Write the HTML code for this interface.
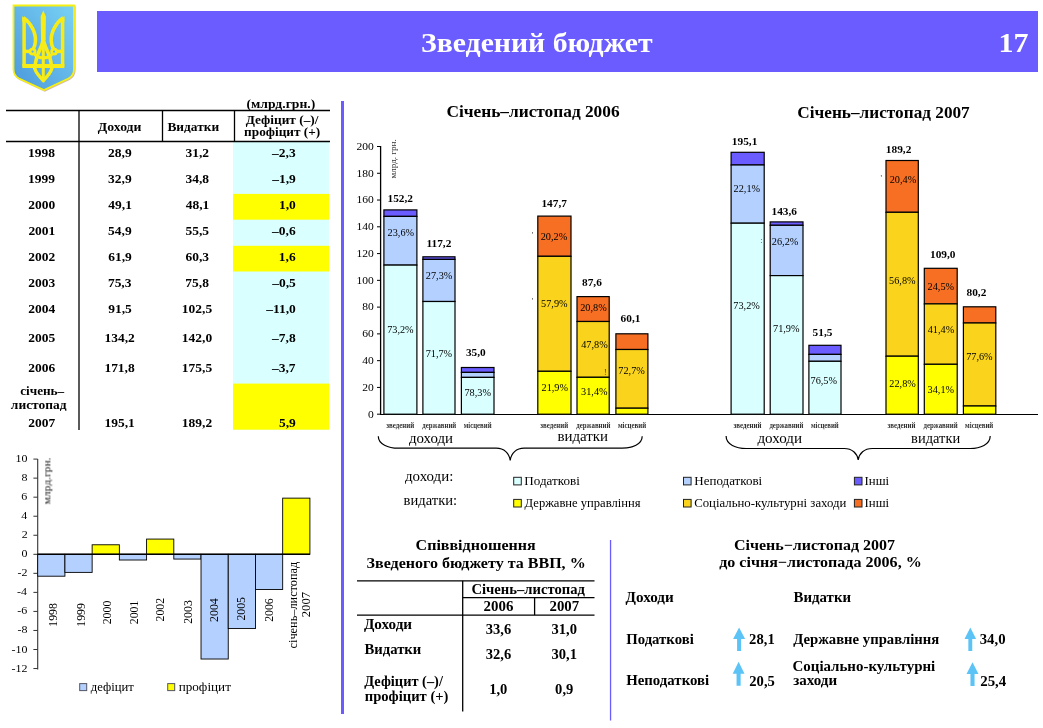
<!DOCTYPE html>
<html><head><meta charset="utf-8"><title>Зведений бюджет</title>
<style>html,body{margin:0;padding:0;background:#fff;}body{width:1043px;height:728px;overflow:hidden;font-family:"Liberation Serif",serif;}svg{display:block;will-change:transform;}</style>
</head><body>
<svg width="1043" height="728" viewBox="0 0 1043 728" font-family="Liberation Serif, serif"><defs>
<linearGradient id="shg" x1="1" y1="0" x2="0" y2="1">
<stop offset="0" stop-color="#78d2f4"/><stop offset="1" stop-color="#4b98dc"/>
</linearGradient>
</defs>
<path d="M14.3,6.3 H74.8 V69.8 Q74.8,76.3 69.3,79.3 L44.8,90.8 L19.8,79.3 Q14.3,76.3 14.3,69.8 Z" fill="none" stroke="#b89070" stroke-width="1.6" opacity="0.6"/>
<path d="M13.5,5.5 H74 V69 Q74,75.5 68.5,78.5 L44,90 L19,78.5 Q13.5,75.5 13.5,69 Z" fill="url(#shg)" stroke="#f6ef12" stroke-width="1.8"/>
<g fill="none" stroke="#f8ec16" stroke-width="3.5" stroke-linejoin="round" stroke-linecap="butt">
<path d="M24.1,18 V66"/>
<path d="M62.6,18 V66"/>
<path d="M22.3,66 H64.4" stroke-width="4.2"/>
<path d="M23.4,17.8 C31,23 36.2,33 35.4,41.5 C35.1,45.5 34.2,47.5 33.2,49"/>
<path d="M63.3,17.8 C55.7,23 50.5,33 51.3,41.5 C51.6,45.5 52.5,47.5 53.5,49"/>
<circle cx="32.6" cy="51.6" r="2.5" stroke-width="2.8"/>
<circle cx="54.1" cy="51.6" r="2.5" stroke-width="2.8"/>
<path d="M24,51.4 H30"/>
<path d="M62.7,51.4 H56.7"/>
<path d="M43.3,37 C43.3,48 36,52 35.2,66" stroke-width="3.6"/>
<path d="M43.3,37 C43.3,48 50.6,52 51.4,66" stroke-width="3.6"/>
<path d="M34.8,54.5 C37,57.3 40,57.8 43.3,57.8 C46.6,57.8 49.6,57.3 51.8,54.5" stroke-width="3"/>
<path d="M43.3,40 V80" stroke-width="3"/>
<path d="M34.4,66 C34.4,72.5 40,76.5 43.3,80.8 C46.6,76.5 52.2,72.5 52.2,66" stroke-width="3.4"/>
</g>
<path d="M43.3,10.4 L45.9,16.5 L45.6,40 L41,40 L40.7,16.5 Z" fill="#f8ec16"/>
<path d="M22.2,16 L26.3,19.5 L26,22 L22.4,22 Z" fill="#f8ec16"/>
<path d="M64.5,16 L60.4,19.5 L60.7,22 L64.3,22 Z" fill="#f8ec16"/>
<rect x="97.00" y="11.00" width="941.00" height="61.00" fill="#6a5cff" />
<text transform="translate(421.01,51.90) scale(1.0631,1)" font-size="28" font-weight="bold" fill="#fff" >Зведений бюджет</text>
<text transform="translate(998.60,52.00) scale(1.0714,1)" font-size="28" font-weight="bold" fill="#fff" >17</text>
<rect x="233.00" y="141.50" width="96.00" height="288.30" fill="#d9ffff" />
<rect x="233.00" y="193.90" width="96.00" height="25.80" fill="#ffff00" />
<rect x="233.00" y="245.80" width="96.00" height="25.70" fill="#ffff00" />
<rect x="233.00" y="383.60" width="96.00" height="46.10" fill="#ffff00" />
<line x1="6" y1="110.5" x2="330" y2="110.5" stroke="#000" stroke-width="1.3"/>
<line x1="6" y1="141.5" x2="330" y2="141.5" stroke="#000" stroke-width="1.3"/>
<line x1="79" y1="110.5" x2="79" y2="430" stroke="#000" stroke-width="1.3"/>
<line x1="162.5" y1="110.5" x2="162.5" y2="141.5" stroke="#000" stroke-width="1.3"/>
<line x1="234.5" y1="110.5" x2="234.5" y2="141.5" stroke="#000" stroke-width="1.3"/>
<text transform="translate(246.45,108.00) scale(1.0849,1)" font-size="12.6" font-weight="bold" >(млрд.грн.)</text>
<text transform="translate(97.86,131.10) scale(1.0894,1)" font-size="12.6" font-weight="bold" >Доходи</text>
<text transform="translate(167.43,131.10) scale(1.0637,1)" font-size="12.6" font-weight="bold" >Видатки</text>
<text transform="translate(245.67,123.70) scale(1.0582,1)" font-size="12.6" font-weight="bold" >Дефіцит (–)/</text>
<text transform="translate(244.10,136.10) scale(1.0559,1)" font-size="12.6" font-weight="bold" >профіцит (+)</text>
<text transform="translate(27.98,156.90) scale(1.0700,1)" font-size="12.6" font-weight="bold" >1998</text>
<text transform="translate(108.10,156.90) scale(1.0700,1)" font-size="12.6" font-weight="bold" >28,9</text>
<text transform="translate(185.50,156.90) scale(1.0700,1)" font-size="12.6" font-weight="bold" >31,2</text>
<text transform="translate(272.11,156.90) scale(1.0700,1)" font-size="12.6" font-weight="bold" >–2,3</text>
<text transform="translate(28.05,182.90) scale(1.0700,1)" font-size="12.6" font-weight="bold" >1999</text>
<text transform="translate(108.10,182.90) scale(1.0700,1)" font-size="12.6" font-weight="bold" >32,9</text>
<text transform="translate(185.44,182.90) scale(1.0700,1)" font-size="12.6" font-weight="bold" >34,8</text>
<text transform="translate(272.25,182.90) scale(1.0700,1)" font-size="12.6" font-weight="bold" >–1,9</text>
<text transform="translate(28.32,208.80) scale(1.0700,1)" font-size="12.6" font-weight="bold" >2000</text>
<text transform="translate(108.37,208.80) scale(1.0700,1)" font-size="12.6" font-weight="bold" >49,1</text>
<text transform="translate(185.77,208.80) scale(1.0700,1)" font-size="12.6" font-weight="bold" >48,1</text>
<text transform="translate(278.99,208.80) scale(1.0700,1)" font-size="12.6" font-weight="bold" >1,0</text>
<text transform="translate(28.39,234.80) scale(1.0700,1)" font-size="12.6" font-weight="bold" >2001</text>
<text transform="translate(108.10,234.80) scale(1.0700,1)" font-size="12.6" font-weight="bold" >54,9</text>
<text transform="translate(185.50,234.80) scale(1.0700,1)" font-size="12.6" font-weight="bold" >55,5</text>
<text transform="translate(272.11,234.80) scale(1.0700,1)" font-size="12.6" font-weight="bold" >–0,6</text>
<text transform="translate(28.32,260.60) scale(1.0700,1)" font-size="12.6" font-weight="bold" >2002</text>
<text transform="translate(108.17,260.60) scale(1.0700,1)" font-size="12.6" font-weight="bold" >61,9</text>
<text transform="translate(185.50,260.60) scale(1.0700,1)" font-size="12.6" font-weight="bold" >60,3</text>
<text transform="translate(278.85,260.60) scale(1.0700,1)" font-size="12.6" font-weight="bold" >1,6</text>
<text transform="translate(28.25,286.60) scale(1.0700,1)" font-size="12.6" font-weight="bold" >2003</text>
<text transform="translate(107.90,286.60) scale(1.0700,1)" font-size="12.6" font-weight="bold" >75,3</text>
<text transform="translate(185.30,286.60) scale(1.0700,1)" font-size="12.6" font-weight="bold" >75,8</text>
<text transform="translate(272.25,286.60) scale(1.0700,1)" font-size="12.6" font-weight="bold" >–0,5</text>
<text transform="translate(28.18,313.00) scale(1.0700,1)" font-size="12.6" font-weight="bold" >2004</text>
<text transform="translate(108.17,313.00) scale(1.0700,1)" font-size="12.6" font-weight="bold" >91,5</text>
<text transform="translate(181.86,313.00) scale(1.0700,1)" font-size="12.6" font-weight="bold" >102,5</text>
<text transform="translate(266.18,313.00) scale(1.0700,1)" font-size="12.6" font-weight="bold" >–11,0</text>
<text transform="translate(28.32,341.70) scale(1.0700,1)" font-size="12.6" font-weight="bold" >2005</text>
<text transform="translate(104.46,341.70) scale(1.0700,1)" font-size="12.6" font-weight="bold" >134,2</text>
<text transform="translate(181.86,341.70) scale(1.0700,1)" font-size="12.6" font-weight="bold" >142,0</text>
<text transform="translate(272.11,341.70) scale(1.0700,1)" font-size="12.6" font-weight="bold" >–7,8</text>
<text transform="translate(28.25,371.50) scale(1.0700,1)" font-size="12.6" font-weight="bold" >2006</text>
<text transform="translate(104.40,371.50) scale(1.0700,1)" font-size="12.6" font-weight="bold" >171,8</text>
<text transform="translate(181.86,371.50) scale(1.0700,1)" font-size="12.6" font-weight="bold" >175,5</text>
<text transform="translate(271.98,371.50) scale(1.0700,1)" font-size="12.6" font-weight="bold" >–3,7</text>
<text transform="translate(28.18,426.60) scale(1.0700,1)" font-size="12.6" font-weight="bold" >2007</text>
<text transform="translate(104.53,426.60) scale(1.0700,1)" font-size="12.6" font-weight="bold" >195,1</text>
<text transform="translate(181.86,426.60) scale(1.0700,1)" font-size="12.6" font-weight="bold" >189,2</text>
<text transform="translate(278.99,426.60) scale(1.0700,1)" font-size="12.6" font-weight="bold" >5,9</text>
<text transform="translate(20.20,394.90) scale(1.0478,1)" font-size="12.6" font-weight="bold" >січень–</text>
<text transform="translate(10.87,408.70) scale(1.0672,1)" font-size="12.6" font-weight="bold" >листопад</text>
<line x1="37.7" y1="458.9" x2="37.7" y2="669.5" stroke="#333" stroke-width="1.1"/>
<line x1="33.400000000000006" y1="668.54" x2="37.7" y2="668.54" stroke="#333" stroke-width="1"/>
<text transform="translate(11.56,671.54) scale(1.0700,1)" font-size="11.2" >-12</text>
<line x1="33.400000000000006" y1="649.5" x2="37.7" y2="649.5" stroke="#333" stroke-width="1"/>
<text transform="translate(11.44,652.50) scale(1.0700,1)" font-size="11.2" >-10</text>
<line x1="33.400000000000006" y1="630.4599999999999" x2="37.7" y2="630.4599999999999" stroke="#333" stroke-width="1"/>
<text transform="translate(17.43,633.46) scale(1.0700,1)" font-size="11.2" >-8</text>
<line x1="33.400000000000006" y1="611.42" x2="37.7" y2="611.42" stroke="#333" stroke-width="1"/>
<text transform="translate(17.31,614.42) scale(1.0700,1)" font-size="11.2" >-6</text>
<line x1="33.400000000000006" y1="592.38" x2="37.7" y2="592.38" stroke="#333" stroke-width="1"/>
<text transform="translate(17.07,595.38) scale(1.0700,1)" font-size="11.2" >-4</text>
<line x1="33.400000000000006" y1="573.3399999999999" x2="37.7" y2="573.3399999999999" stroke="#333" stroke-width="1"/>
<text transform="translate(17.55,576.34) scale(1.0700,1)" font-size="11.2" >-2</text>
<line x1="33.400000000000006" y1="554.3" x2="37.7" y2="554.3" stroke="#333" stroke-width="1"/>
<text transform="translate(21.39,557.30) scale(1.0700,1)" font-size="11.2" >0</text>
<line x1="33.400000000000006" y1="535.26" x2="37.7" y2="535.26" stroke="#333" stroke-width="1"/>
<text transform="translate(21.63,538.26) scale(1.0700,1)" font-size="11.2" >2</text>
<line x1="33.400000000000006" y1="516.2199999999999" x2="37.7" y2="516.2199999999999" stroke="#333" stroke-width="1"/>
<text transform="translate(21.15,519.22) scale(1.0700,1)" font-size="11.2" >4</text>
<line x1="33.400000000000006" y1="497.17999999999995" x2="37.7" y2="497.17999999999995" stroke="#333" stroke-width="1"/>
<text transform="translate(21.27,500.18) scale(1.0700,1)" font-size="11.2" >6</text>
<line x1="33.400000000000006" y1="478.14" x2="37.7" y2="478.14" stroke="#333" stroke-width="1"/>
<text transform="translate(21.39,481.14) scale(1.0700,1)" font-size="11.2" >8</text>
<line x1="33.400000000000006" y1="459.09999999999997" x2="37.7" y2="459.09999999999997" stroke="#333" stroke-width="1"/>
<text transform="translate(15.40,462.10) scale(1.0700,1)" font-size="11.2" >10</text>
<rect x="37.70" y="554.30" width="27.22" height="21.90" fill="#b3d0ff" stroke="#000" stroke-width="0.9" />
<rect x="64.92" y="554.30" width="27.22" height="18.09" fill="#b3d0ff" stroke="#000" stroke-width="0.9" />
<rect x="92.14" y="544.78" width="27.22" height="9.52" fill="#ffff00" stroke="#000" stroke-width="0.9" />
<rect x="119.36" y="554.30" width="27.22" height="5.71" fill="#b3d0ff" stroke="#000" stroke-width="0.9" />
<rect x="146.58" y="539.07" width="27.22" height="15.23" fill="#ffff00" stroke="#000" stroke-width="0.9" />
<rect x="173.80" y="554.30" width="27.22" height="4.76" fill="#b3d0ff" stroke="#000" stroke-width="0.9" />
<rect x="201.02" y="554.30" width="27.22" height="104.72" fill="#b3d0ff" stroke="#000" stroke-width="0.9" />
<rect x="228.24" y="554.30" width="27.22" height="74.26" fill="#b3d0ff" stroke="#000" stroke-width="0.9" />
<rect x="255.46" y="554.30" width="27.22" height="35.22" fill="#b3d0ff" stroke="#000" stroke-width="0.9" />
<rect x="282.68" y="498.13" width="27.22" height="56.17" fill="#ffff00" stroke="#000" stroke-width="0.9" />
<line x1="37.7" y1="554.3" x2="309.9" y2="554.3" stroke="#000" stroke-width="1.6"/>
<text transform="translate(57.20,626.70) rotate(-90) scale(1.0000,1)" font-size="11.8" >1998</text>
<text transform="translate(85.10,626.70) rotate(-90) scale(1.0000,1)" font-size="11.8" >1999</text>
<text transform="translate(111.20,624.30) rotate(-90) scale(1.0000,1)" font-size="11.8" >2000</text>
<text transform="translate(138.00,624.18) rotate(-90) scale(1.0000,1)" font-size="11.8" >2001</text>
<text transform="translate(163.90,621.48) rotate(-90) scale(1.0000,1)" font-size="11.8" >2002</text>
<text transform="translate(192.40,623.80) rotate(-90) scale(1.0000,1)" font-size="11.8" >2003</text>
<text transform="translate(217.50,621.92) rotate(-90) scale(1.0000,1)" font-size="11.8" >2004</text>
<text transform="translate(244.80,620.60) rotate(-90) scale(1.0000,1)" font-size="11.8" >2005</text>
<text transform="translate(272.80,621.86) rotate(-90) scale(1.0000,1)" font-size="11.8" >2006</text>
<text transform="translate(297.30,648.49) rotate(-90) scale(1.0451,1)" font-size="11.8" >січень–листопад</text>
<text transform="translate(310.20,617.19) rotate(-90) scale(1.0700,1)" font-size="11.8" >2007</text>
<text transform="translate(50.40,504.43) rotate(-90) scale(1.0294,1)" font-size="11.2" fill="#222" >млрд.грн.</text>
<rect x="79.70" y="683.60" width="7.00" height="7.00" fill="#b3d0ff" stroke="#556" stroke-width="1" />
<text transform="translate(90.80,691.40) scale(1.0236,1)" font-size="12.4" >дефіцит</text>
<rect x="167.70" y="683.60" width="7.00" height="7.00" fill="#ffff00" stroke="#556" stroke-width="1" />
<text transform="translate(178.64,691.40) scale(1.0630,1)" font-size="12.4" >профіцит</text>
<rect x="341.00" y="101.00" width="3.00" height="613.00" fill="#6a5cff" />
<rect x="609.90" y="540.00" width="1.30" height="180.50" fill="#6a5cff" />
<text transform="translate(446.43,116.80) scale(1.0832,1)" font-size="16" font-weight="bold" >Січень–листопад 2006</text>
<text transform="translate(797.34,118.20) scale(1.0775,1)" font-size="16" font-weight="bold" >Січень–листопад 2007</text>
<line x1="380.6" y1="146" x2="380.6" y2="414.2" stroke="#000" stroke-width="1.3"/>
<line x1="377" y1="414.2" x2="380.6" y2="414.2" stroke="#000" stroke-width="1"/>
<text transform="translate(367.98,417.50) scale(1.0700,1)" font-size="10.8" >0</text>
<line x1="377" y1="387.43" x2="380.6" y2="387.43" stroke="#000" stroke-width="1"/>
<text transform="translate(362.21,390.73) scale(1.0700,1)" font-size="10.8" >20</text>
<line x1="377" y1="360.65999999999997" x2="380.6" y2="360.65999999999997" stroke="#000" stroke-width="1"/>
<text transform="translate(362.21,363.96) scale(1.0700,1)" font-size="10.8" >40</text>
<line x1="377" y1="333.89" x2="380.6" y2="333.89" stroke="#000" stroke-width="1"/>
<text transform="translate(362.21,337.19) scale(1.0700,1)" font-size="10.8" >60</text>
<line x1="377" y1="307.12" x2="380.6" y2="307.12" stroke="#000" stroke-width="1"/>
<text transform="translate(362.21,310.42) scale(1.0700,1)" font-size="10.8" >80</text>
<line x1="377" y1="280.35" x2="380.6" y2="280.35" stroke="#000" stroke-width="1"/>
<text transform="translate(356.43,283.65) scale(1.0700,1)" font-size="10.8" >100</text>
<line x1="377" y1="253.57999999999998" x2="380.6" y2="253.57999999999998" stroke="#000" stroke-width="1"/>
<text transform="translate(356.43,256.88) scale(1.0700,1)" font-size="10.8" >120</text>
<line x1="377" y1="226.80999999999997" x2="380.6" y2="226.80999999999997" stroke="#000" stroke-width="1"/>
<text transform="translate(356.43,230.11) scale(1.0700,1)" font-size="10.8" >140</text>
<line x1="377" y1="200.04" x2="380.6" y2="200.04" stroke="#000" stroke-width="1"/>
<text transform="translate(356.43,203.34) scale(1.0700,1)" font-size="10.8" >160</text>
<line x1="377" y1="173.26999999999998" x2="380.6" y2="173.26999999999998" stroke="#000" stroke-width="1"/>
<text transform="translate(356.43,176.57) scale(1.0700,1)" font-size="10.8" >180</text>
<line x1="377" y1="146.5" x2="380.6" y2="146.5" stroke="#000" stroke-width="1"/>
<text transform="translate(356.43,149.80) scale(1.0700,1)" font-size="10.8" >200</text>
<text transform="translate(395.90,178.58) rotate(-90) scale(1.0710,1)" font-size="8.5" fill="#333" >млрд. грн.</text>
<line x1="380" y1="414.5" x2="1038" y2="414.5" stroke="#000" stroke-width="1.1"/>
<rect x="383.90" y="209.90" width="33.00" height="6.50" fill="#6a5cff" stroke="#000" stroke-width="1.2" />
<rect x="383.90" y="216.40" width="33.00" height="48.70" fill="#b3d0ff" stroke="#000" stroke-width="1.2" />
<rect x="383.90" y="265.10" width="33.00" height="149.10" fill="#d9ffff" stroke="#000" stroke-width="1.2" />
<rect x="422.90" y="256.80" width="32.10" height="2.60" fill="#6a5cff" stroke="#000" stroke-width="1.2" />
<rect x="422.90" y="259.40" width="32.10" height="42.10" fill="#b3d0ff" stroke="#000" stroke-width="1.2" />
<rect x="422.90" y="301.50" width="32.10" height="112.70" fill="#d9ffff" stroke="#000" stroke-width="1.2" />
<rect x="461.40" y="367.50" width="32.60" height="4.90" fill="#6a5cff" stroke="#000" stroke-width="1.2" />
<rect x="461.40" y="372.40" width="32.60" height="5.00" fill="#b3d0ff" stroke="#000" stroke-width="1.2" />
<rect x="461.40" y="377.40" width="32.60" height="36.80" fill="#d9ffff" stroke="#000" stroke-width="1.2" />
<rect x="537.80" y="216.10" width="33.20" height="40.20" fill="#f76f22" stroke="#000" stroke-width="1.2" />
<rect x="537.80" y="256.30" width="33.20" height="115.00" fill="#fad41c" stroke="#000" stroke-width="1.2" />
<rect x="537.80" y="371.30" width="33.20" height="42.90" fill="#ffff00" stroke="#000" stroke-width="1.2" />
<rect x="577.00" y="296.60" width="32.20" height="24.90" fill="#f76f22" stroke="#000" stroke-width="1.2" />
<rect x="577.00" y="321.50" width="32.20" height="55.80" fill="#fad41c" stroke="#000" stroke-width="1.2" />
<rect x="577.00" y="377.30" width="32.20" height="36.90" fill="#ffff00" stroke="#000" stroke-width="1.2" />
<rect x="615.90" y="333.80" width="32.00" height="15.70" fill="#f76f22" stroke="#000" stroke-width="1.2" />
<rect x="615.90" y="349.50" width="32.00" height="58.70" fill="#fad41c" stroke="#000" stroke-width="1.2" />
<rect x="615.90" y="408.20" width="32.00" height="6.00" fill="#ffff00" stroke="#000" stroke-width="1.2" />
<rect x="731.10" y="152.30" width="33.10" height="12.70" fill="#6a5cff" stroke="#000" stroke-width="1.2" />
<rect x="731.10" y="165.00" width="33.10" height="58.20" fill="#b3d0ff" stroke="#000" stroke-width="1.2" />
<rect x="731.10" y="223.20" width="33.10" height="191.00" fill="#d9ffff" stroke="#000" stroke-width="1.2" />
<rect x="770.20" y="221.90" width="32.80" height="3.40" fill="#6a5cff" stroke="#000" stroke-width="1.2" />
<rect x="770.20" y="225.30" width="32.80" height="50.30" fill="#b3d0ff" stroke="#000" stroke-width="1.2" />
<rect x="770.20" y="275.60" width="32.80" height="138.60" fill="#d9ffff" stroke="#000" stroke-width="1.2" />
<rect x="808.90" y="345.30" width="32.10" height="9.10" fill="#6a5cff" stroke="#000" stroke-width="1.2" />
<rect x="808.90" y="354.40" width="32.10" height="6.90" fill="#b3d0ff" stroke="#000" stroke-width="1.2" />
<rect x="808.90" y="361.30" width="32.10" height="52.90" fill="#d9ffff" stroke="#000" stroke-width="1.2" />
<rect x="886.00" y="160.50" width="32.30" height="51.80" fill="#f76f22" stroke="#000" stroke-width="1.2" />
<rect x="886.00" y="212.30" width="32.30" height="143.90" fill="#fad41c" stroke="#000" stroke-width="1.2" />
<rect x="886.00" y="356.20" width="32.30" height="58.00" fill="#ffff00" stroke="#000" stroke-width="1.2" />
<rect x="924.30" y="268.30" width="32.90" height="35.60" fill="#f76f22" stroke="#000" stroke-width="1.2" />
<rect x="924.30" y="303.90" width="32.90" height="60.40" fill="#fad41c" stroke="#000" stroke-width="1.2" />
<rect x="924.30" y="364.30" width="32.90" height="49.90" fill="#ffff00" stroke="#000" stroke-width="1.2" />
<rect x="963.40" y="306.80" width="32.40" height="16.20" fill="#f76f22" stroke="#000" stroke-width="1.2" />
<rect x="963.40" y="323.00" width="32.40" height="83.00" fill="#fad41c" stroke="#000" stroke-width="1.2" />
<rect x="963.40" y="406.00" width="32.40" height="8.20" fill="#ffff00" stroke="#000" stroke-width="1.2" />
<text transform="translate(387.51,201.80) scale(1.0700,1)" font-size="10.6" font-weight="bold" >152,2</text>
<text transform="translate(426.45,247.10) scale(1.0700,1)" font-size="10.6" font-weight="bold" >117,2</text>
<text transform="translate(465.88,355.60) scale(1.0700,1)" font-size="10.6" font-weight="bold" >35,0</text>
<text transform="translate(541.40,206.70) scale(1.0700,1)" font-size="10.6" font-weight="bold" >147,7</text>
<text transform="translate(581.98,285.70) scale(1.0700,1)" font-size="10.6" font-weight="bold" >87,6</text>
<text transform="translate(620.59,321.50) scale(1.0700,1)" font-size="10.6" font-weight="bold" >60,1</text>
<text transform="translate(731.87,144.60) scale(1.0700,1)" font-size="10.6" font-weight="bold" >195,1</text>
<text transform="translate(771.46,215.00) scale(1.0700,1)" font-size="10.6" font-weight="bold" >143,6</text>
<text transform="translate(812.58,335.70) scale(1.0700,1)" font-size="10.6" font-weight="bold" >51,5</text>
<text transform="translate(885.81,152.90) scale(1.0700,1)" font-size="10.6" font-weight="bold" >189,2</text>
<text transform="translate(930.01,257.90) scale(1.0700,1)" font-size="10.6" font-weight="bold" >109,0</text>
<text transform="translate(966.53,296.20) scale(1.0700,1)" font-size="10.6" font-weight="bold" >80,2</text>
<text transform="translate(387.14,333.20) scale(1.0700,1)" font-size="9.6" >73,2%</text>
<text transform="translate(387.60,236.10) scale(1.0700,1)" font-size="9.6" >23,6%</text>
<text transform="translate(425.64,357.20) scale(1.0700,1)" font-size="9.6" >71,7%</text>
<text transform="translate(425.80,279.20) scale(1.0700,1)" font-size="9.6" >27,3%</text>
<text transform="translate(464.44,395.80) scale(1.0700,1)" font-size="9.6" >78,3%</text>
<text transform="translate(541.50,390.70) scale(1.0700,1)" font-size="9.6" >21,9%</text>
<text transform="translate(541.10,307.00) scale(1.0700,1)" font-size="9.6" >57,9%</text>
<text transform="translate(540.70,240.00) scale(1.0700,1)" font-size="9.6" >20,2%</text>
<text transform="translate(581.05,395.30) scale(1.0700,1)" font-size="9.6" >31,4%</text>
<text transform="translate(581.20,347.70) scale(1.0700,1)" font-size="9.6" >47,8%</text>
<text transform="translate(580.20,310.90) scale(1.0700,1)" font-size="9.6" >20,8%</text>
<text transform="translate(618.34,374.20) scale(1.0700,1)" font-size="9.6" >72,7%</text>
<text transform="translate(733.34,309.10) scale(1.0700,1)" font-size="9.6" >73,2%</text>
<text transform="translate(733.60,191.80) scale(1.0700,1)" font-size="9.6" >22,1%</text>
<text transform="translate(773.04,331.70) scale(1.0700,1)" font-size="9.6" >71,9%</text>
<text transform="translate(771.80,244.70) scale(1.0700,1)" font-size="9.6" >26,2%</text>
<text transform="translate(810.54,384.40) scale(1.0700,1)" font-size="9.6" >76,5%</text>
<text transform="translate(889.30,386.90) scale(1.0700,1)" font-size="9.6" >22,8%</text>
<text transform="translate(889.10,284.20) scale(1.0700,1)" font-size="9.6" >56,8%</text>
<text transform="translate(889.70,183.20) scale(1.0700,1)" font-size="9.6" >20,4%</text>
<text transform="translate(927.55,392.80) scale(1.0700,1)" font-size="9.6" >34,1%</text>
<text transform="translate(927.70,332.50) scale(1.0700,1)" font-size="9.6" >41,4%</text>
<text transform="translate(927.60,290.30) scale(1.0700,1)" font-size="9.6" >24,5%</text>
<text transform="translate(966.14,359.50) scale(1.0700,1)" font-size="9.6" >77,6%</text>
<text x="532.5" y="238" font-size="8" text-anchor="middle" fill="#333">'</text>
<text x="532.5" y="304" font-size="8" text-anchor="middle" fill="#333">'</text>
<text x="605.3" y="374.5" font-size="8" text-anchor="middle" fill="#333">!</text>
<text x="881.3" y="181" font-size="8" text-anchor="middle" fill="#333">'</text>
<text x="761.4" y="243" font-size="8" text-anchor="middle" fill="#333">:</text>
<text x="918.3" y="285" font-size="8" text-anchor="middle" fill="#333">,</text>
<text transform="translate(386.23,428.30) scale(0.9155,1)" font-size="7.6" font-weight="bold" fill="#333" >зведений</text>
<text transform="translate(733.43,428.30) scale(0.9155,1)" font-size="7.6" font-weight="bold" fill="#333" >зведений</text>
<text transform="translate(422.23,428.30) scale(0.8966,1)" font-size="7.6" font-weight="bold" fill="#333" >державний</text>
<text transform="translate(769.43,428.30) scale(0.8966,1)" font-size="7.6" font-weight="bold" fill="#333" >державний</text>
<text transform="translate(463.70,428.30) scale(0.8912,1)" font-size="7.6" font-weight="bold" fill="#333" >місцевий</text>
<text transform="translate(810.90,428.30) scale(0.8912,1)" font-size="7.6" font-weight="bold" fill="#333" >місцевий</text>
<text transform="translate(540.33,428.30) scale(0.9056,1)" font-size="7.6" font-weight="bold" fill="#333" >зведений</text>
<text transform="translate(887.53,428.30) scale(0.9056,1)" font-size="7.6" font-weight="bold" fill="#333" >зведений</text>
<text transform="translate(576.23,428.30) scale(0.9020,1)" font-size="7.6" font-weight="bold" fill="#333" >державний</text>
<text transform="translate(923.43,428.30) scale(0.9020,1)" font-size="7.6" font-weight="bold" fill="#333" >державний</text>
<text transform="translate(617.89,428.30) scale(0.9042,1)" font-size="7.6" font-weight="bold" fill="#333" >місцевий</text>
<text transform="translate(965.09,428.30) scale(0.9042,1)" font-size="7.6" font-weight="bold" fill="#333" >місцевий</text>
<text transform="translate(408.90,443.00) scale(0.9932,1)" font-size="15" >доходи</text>
<text transform="translate(557.50,440.60) scale(0.9950,1)" font-size="15" >видатки</text>
<text transform="translate(757.40,443.00) scale(1.0045,1)" font-size="15" >доходи</text>
<text transform="translate(911.11,443.00) scale(0.9652,1)" font-size="15" >видатки</text>
<path d="M378.3,436.2 C378.3,444.2 388.3,448.2 398.3,448.2 L496.2,448.2 C504.2,448.2 509.2,453.2 510.2,460.3 C511.2,453.2 516.2,448.2 524.2,448.2 L622.2,448.2 C632.2,448.2 642.2,444.2 642.2,436.2" fill="none" stroke="#000" stroke-width="1.2"/>
<path d="M726.1,436.0 C726.1,444.5 736.1,448.5 746.1,448.5 L844.2,448.5 C852.2,448.5 857.2,453.5 858.2,459.8 C859.2,453.5 864.2,448.5 872.2,448.5 L970.2,448.5 C980.2,448.5 990.2,444.5 990.2,436.0" fill="none" stroke="#000" stroke-width="1.2"/>
<text transform="translate(405.00,480.80) scale(1.0231,1)" font-size="14.6" >доходи:</text>
<text transform="translate(403.61,504.80) scale(0.9996,1)" font-size="14.6" >видатки:</text>
<rect x="513.70" y="477.30" width="7.60" height="7.60" fill="#d9ffff" stroke="#222" stroke-width="1" />
<text transform="translate(524.31,484.90) scale(1.0317,1)" font-size="12.7" >Податкові</text>
<rect x="683.50" y="477.30" width="7.60" height="7.60" fill="#b3d0ff" stroke="#222" stroke-width="1" />
<text transform="translate(694.31,484.90) scale(1.0250,1)" font-size="12.7" >Неподаткові</text>
<rect x="854.40" y="477.30" width="7.60" height="7.60" fill="#6a5cff" stroke="#222" stroke-width="1" />
<text transform="translate(864.49,484.90) scale(1.0118,1)" font-size="12.7" >Інші</text>
<rect x="513.70" y="499.40" width="7.60" height="7.60" fill="#ffff00" stroke="#222" stroke-width="1" />
<text transform="translate(524.57,507.00) scale(0.9913,1)" font-size="12.7" >Державне управління</text>
<rect x="683.50" y="499.40" width="7.60" height="7.60" fill="#fad41c" stroke="#222" stroke-width="1" />
<text transform="translate(694.19,507.00) scale(1.0075,1)" font-size="12.7" >Соціально-культурні заходи</text>
<rect x="854.40" y="499.40" width="7.60" height="7.60" fill="#f76f22" stroke="#222" stroke-width="1" />
<text transform="translate(864.49,507.00) scale(1.0118,1)" font-size="12.7" >Інші</text>
<text transform="translate(415.60,550.20) scale(1.0827,1)" font-size="14.8" font-weight="bold" >Співвідношення</text>
<text transform="translate(366.60,568.00) scale(1.0840,1)" font-size="14.8" font-weight="bold" >Зведеного бюджету та ВВП, %</text>
<line x1="357" y1="580.8" x2="594.5" y2="580.8" stroke="#000" stroke-width="1.3"/>
<line x1="462.7" y1="597.6" x2="594.5" y2="597.6" stroke="#000" stroke-width="1.3"/>
<line x1="357" y1="615.1" x2="594.5" y2="615.1" stroke="#000" stroke-width="1.3"/>
<line x1="462.7" y1="580.8" x2="462.7" y2="711.4" stroke="#000" stroke-width="1.3"/>
<line x1="534.6" y1="597.6" x2="534.6" y2="615.1" stroke="#000" stroke-width="1.3"/>
<text transform="translate(471.47,594.00) scale(1.0776,1)" font-size="13.6" font-weight="bold" >Січень–листопад</text>
<text transform="translate(483.60,611.20) scale(1.0972,1)" font-size="13.6" font-weight="bold" >2006</text>
<text transform="translate(549.51,611.20) scale(1.0916,1)" font-size="13.6" font-weight="bold" >2007</text>
<text transform="translate(363.95,628.70) scale(1.1146,1)" font-size="13.6" font-weight="bold" >Доходи</text>
<text transform="translate(364.51,653.90) scale(1.0798,1)" font-size="13.6" font-weight="bold" >Видатки</text>
<text transform="translate(364.26,686.10) scale(1.0585,1)" font-size="13.6" font-weight="bold" >Дефіцит (–)/</text>
<text transform="translate(364.76,701.30) scale(1.0744,1)" font-size="13.6" font-weight="bold" >профіцит (+)</text>
<text transform="translate(485.79,633.50) scale(1.0700,1)" font-size="13.6" font-weight="bold" >33,6</text>
<text transform="translate(551.47,633.50) scale(1.0700,1)" font-size="13.6" font-weight="bold" >31,0</text>
<text transform="translate(485.79,658.70) scale(1.0700,1)" font-size="13.6" font-weight="bold" >32,6</text>
<text transform="translate(551.54,658.70) scale(1.0700,1)" font-size="13.6" font-weight="bold" >30,1</text>
<text transform="translate(489.21,694.20) scale(1.0700,1)" font-size="13.6" font-weight="bold" >1,0</text>
<text transform="translate(555.11,694.20) scale(1.0700,1)" font-size="13.6" font-weight="bold" >0,9</text>
<text transform="translate(733.90,549.70) scale(1.0818,1)" font-size="14.8" font-weight="bold" >Січень−листопад 2007</text>
<text transform="translate(719.14,567.40) scale(1.0848,1)" font-size="14.8" font-weight="bold" >до січня−листопада 2006, %</text>
<text transform="translate(625.55,602.10) scale(1.1146,1)" font-size="13.6" font-weight="bold" >Доходи</text>
<text transform="translate(793.60,602.10) scale(1.0933,1)" font-size="13.6" font-weight="bold" >Видатки</text>
<text transform="translate(626.20,643.80) scale(1.0867,1)" font-size="13.6" font-weight="bold" >Податкові</text>
<text transform="translate(626.20,685.20) scale(1.0910,1)" font-size="13.6" font-weight="bold" >Неподаткові</text>
<text transform="translate(793.15,643.80) scale(1.0832,1)" font-size="13.6" font-weight="bold" >Державне управління</text>
<text transform="translate(792.55,670.60) scale(1.0983,1)" font-size="13.6" font-weight="bold" >Соціально-культурні</text>
<text transform="translate(793.15,684.60) scale(1.1080,1)" font-size="13.6" font-weight="bold" >заходи</text>
<text transform="translate(749.11,643.70) scale(1.0764,1)" font-size="13.6" font-weight="bold" >28,1</text>
<text transform="translate(749.32,685.50) scale(1.0743,1)" font-size="13.6" font-weight="bold" >20,5</text>
<text transform="translate(979.71,643.90) scale(1.0875,1)" font-size="13.6" font-weight="bold" >34,0</text>
<text transform="translate(980.20,685.80) scale(1.0964,1)" font-size="13.6" font-weight="bold" >25,4</text>
<path d="M739.1,627.4 L745.1,639.1 L741.1,639.1 L741.1,650.9 L737.1,650.9 L737.1,639.1 L733.1,639.1 Z" fill="#5cc3f6"/>
<path d="M738.6,661.8 L744.5,673.8 L740.65,673.8 L740.65,685.8 L736.5500000000001,685.8 L736.5500000000001,673.8 L732.7,673.8 Z" fill="#5cc3f6"/>
<path d="M970.3,627.4 L976.0999999999999,639.1 L972.25,639.1 L972.25,650.9 L968.3499999999999,650.9 L968.3499999999999,639.1 L964.5,639.1 Z" fill="#5cc3f6"/>
<path d="M972.5,662.3 L978.5,674.1 L974.55,674.1 L974.55,686 L970.45,686 L970.45,674.1 L966.5,674.1 Z" fill="#5cc3f6"/></svg>
</body></html>
